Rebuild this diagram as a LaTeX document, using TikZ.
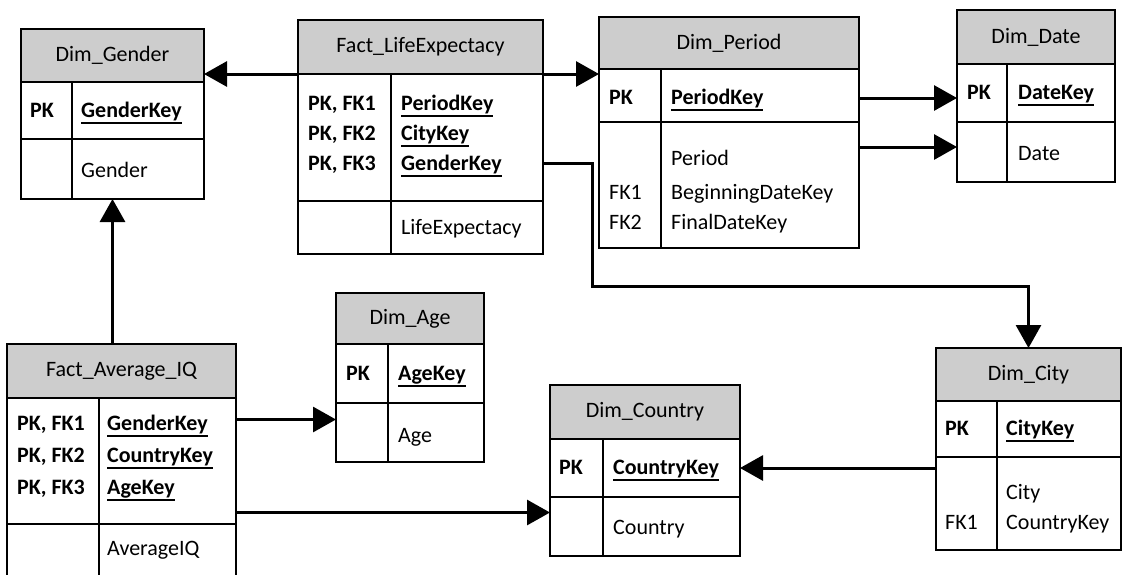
\documentclass[tikz,border=0pt]{standalone}
\usepackage{fontspec}
\setmainfont{Carlito}
\usetikzlibrary{arrows.meta,calc}
\definecolor{hdrgray}{RGB}{205,205,205}

% bold, underlined key name with a heavier rule than \underline gives
\newcommand\keyname[1]{\setbox0\hbox{\bfseries #1}\rlap{\rule[-6.5pt]{\wd0}{1.6pt}}\box0}

\tikzset{
  tbl/.style={draw=black, line width=1.6pt, anchor=north west, inner sep=0pt, outer sep=0pt},
  ttl/.style={inner sep=0pt, font=\fontsize{22}{26}\selectfont},
  fldtxt/.style={anchor=base west, inner sep=0pt, font=\fontsize{22}{26}\selectfont},
  conn/.style={line width=3pt, -{Triangle[length=23pt,width=25pt]}},
}

% table: name, left, divider, right, top, header bottom, key bottom, bottom, title
\newcommand\ertable[9]{%
  \node[tbl, fill=hdrgray, minimum width={#4-#2}, minimum height={#6-#5}] (#1-h) at (#2,#5) {};
  \node[ttl] (#1-t) at (#1-h.center) {#9};
  \node[tbl, minimum width={#4-#2}, minimum height={#7-#6}] (#1-k) at (#2,#6) {};
  \node[tbl, minimum width={#4-#2}, minimum height={#8-#7}] (#1-a) at (#2,#7) {};
  \draw[line width=1.6pt] (#3,#6) -- (#3,#8);
}
% one line of text in a table cell
\newcommand\fld[4]{\node[fldtxt] (#1) at (#2,#3) {#4};}

\begin{document}
\begin{tikzpicture}[x=1pt, y=-1pt]
\useasboundingbox (0,0) rectangle (1122,574);
\clip (0,0) rectangle (1122,574);

% ---------- tables ----------
\ertable{g}{21}{72}{204}{29}{82}{139}{199}{Dim\_Gender}
\ertable{f}{298}{391}{543}{20}{74}{201}{254}{Fact\_LifeExpectacy}
\ertable{p}{599}{661}{859}{17}{69}{122}{248}{Dim\_Period}
\ertable{d}{957}{1007}{1115}{10}{64}{122}{182}{Dim\_Date}
\ertable{a}{7}{99}{236}{344}{398}{524}{600}{Fact\_Average\_IQ}
\ertable{ag}{336}{388}{484}{293}{344}{403}{462}{Dim\_Age}
\ertable{c}{550}{603}{740}{385}{439}{497}{556}{Dim\_Country}
\ertable{ci}{936}{997}{1121}{348}{401}{457}{550}{Dim\_City}

% ---------- fields ----------
% Dim_Gender
\fld{g-pk}{30}{117}{\bfseries PK}
\fld{g-k1}{81}{117}{\keyname{GenderKey}}
\fld{g-f1}{81}{177}{Gender}
% Fact_LifeExpectacy
\fld{f-pk1}{308}{110}{\bfseries PK, FK1}
\fld{f-pk2}{308}{140}{\bfseries PK, FK2}
\fld{f-pk3}{308}{170}{\bfseries PK, FK3}
\fld{f-k1}{401}{110}{\keyname{PeriodKey}}
\fld{f-k2}{401}{140}{\keyname{CityKey}}
\fld{f-k3}{401}{170}{\keyname{GenderKey}}
\fld{f-f1}{401}{234}{LifeExpectacy}
% Dim_Period
\fld{p-pk}{609}{104}{\bfseries PK}
\fld{p-k1}{671}{104}{\keyname{PeriodKey}}
\fld{p-f1}{671}{165}{Period}
\fld{p-fk1}{609}{199}{FK1}
\fld{p-f2}{671}{199}{BeginningDateKey}
\fld{p-fk2}{609}{229}{FK2}
\fld{p-f3}{671}{229}{FinalDateKey}
% Dim_Date
\fld{d-pk}{967}{99}{\bfseries PK}
\fld{d-k1}{1018}{99}{\keyname{DateKey}}
\fld{d-f1}{1018}{160}{Date}
% Fact_Average_IQ
\fld{a-pk1}{17}{430}{\bfseries PK, FK1}
\fld{a-pk2}{17}{462}{\bfseries PK, FK2}
\fld{a-pk3}{17}{494}{\bfseries PK, FK3}
\fld{a-k1}{107}{430}{\keyname{GenderKey}}
\fld{a-k2}{107}{462}{\keyname{CountryKey}}
\fld{a-k3}{107}{494}{\keyname{AgeKey}}
\fld{a-f1}{107}{555}{AverageIQ}
% Dim_Age
\fld{ag-pk}{346}{380}{\bfseries PK}
\fld{ag-k1}{398}{380}{\keyname{AgeKey}}
\fld{ag-f1}{398}{442}{Age}
% Dim_Country
\fld{c-pk}{559}{474}{\bfseries PK}
\fld{c-k1}{613}{474}{\keyname{CountryKey}}
\fld{c-f1}{613}{534}{Country}
% Dim_City
\fld{ci-pk}{945}{435}{\bfseries PK}
\fld{ci-k1}{1006}{435}{\keyname{CityKey}}
\fld{ci-f1}{1006}{499}{City}
\fld{ci-fk1}{945}{529}{FK1}
\fld{ci-f2}{1006}{529}{CountryKey}

% ---------- relationships ----------
\draw[conn] (f-h.south west) -- (f-h.south west -| g-h.east);
\draw[conn] (f-h.south east) -- (f-h.south east -| p-h.west);

\coordinate (fcity) at ($(f-k.east)+(0,25.5)$);
\coordinate (bend) at (592,286);
\draw[conn] (fcity) -| (bend) -| (ci-h.north);

\coordinate (dk) at ($(d-k.west)+(0,5)$);
\coordinate (da) at ($(d-a.west)+(0,-5)$);
\draw[conn] (dk -| p-k.east) -- (dk);
\draw[conn] (da -| p-a.east) -- (da);

\draw[conn] (g-a.south |- a-h.north) -- (g-a.south);

\coordinate (agin) at ($(ag-a.west)+(0,-13)$);
\draw[conn] (agin -| a-k.east) -- (agin);

\coordinate (cin) at ($(c-a.west)+(0,-14)$);
\draw[conn] (cin -| a-k.east) -- (cin);

\draw[conn] (c-k.east -| ci-a.west) -- (c-k.east);
\end{tikzpicture}
\end{document}
